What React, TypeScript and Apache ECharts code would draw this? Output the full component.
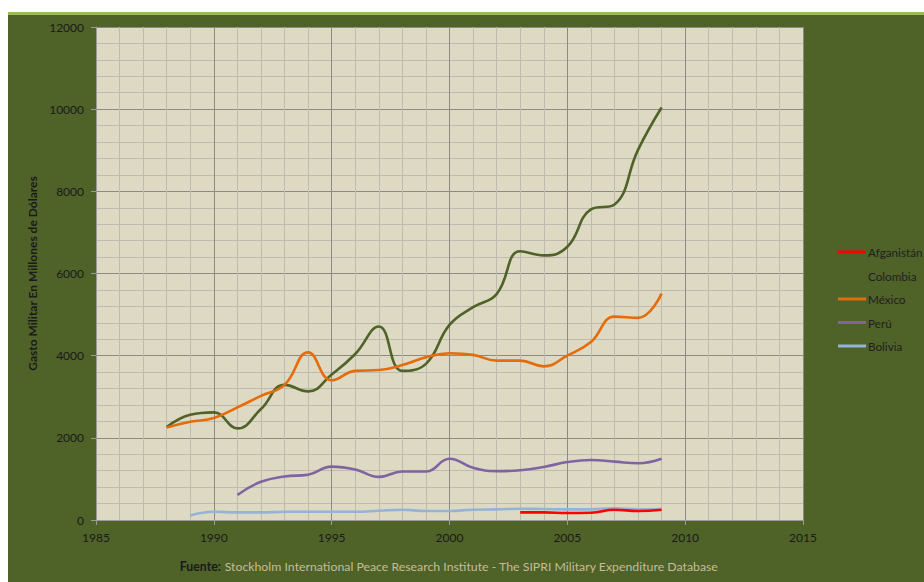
import React, { useEffect, useRef } from "react";
import * as echarts from "echarts";

const years: number[] = [1988, 1989, 1990, 1991, 1992, 1993, 1994, 1995, 1996, 1997, 1998, 1999, 2000, 2001, 2002, 2003, 2004, 2005, 2006, 2007, 2008, 2009];

const colombia: number[] = [2260, 2560, 2620, 2230, 2700, 3290, 3130, 3540, 4040, 4710, 3630, 3800, 4750, 5180, 5500, 6540, 6440, 6650, 7560, 7680, 9010, 10040];
const mexico: number[] = [2250, 2390, 2480, 2740, 3020, 3290, 4080, 3400, 3630, 3650, 3770, 3960, 4060, 4020, 3880, 3880, 3740, 4000, 4330, 4950, 4920, 5510];
const peruStart = 1991;
const peru: number[] = [610, 930, 1060, 1100, 1300, 1230, 1050, 1180, 1180, 1490, 1270, 1190, 1210, 1290, 1410, 1460, 1420, 1380, 1490];
const boliviaStart = 1989;
const bolivia: number[] = [110, 200, 185, 185, 200, 200, 200, 200, 225, 250, 218, 218, 250, 258, 274, 266, 258, 258, 282, 258, 266];
const afganistanStart = 2003;
const afganistan: number[] = [185, 185, 170, 177, 250, 218, 250];

const seriesNames = ["Afganistán", "Colombia", "México", "Perú", "Bolivia"];
const seriesColors = ["#FF0000", "#4F6228", "#E46C0A", "#8064A2", "#95B3D7"];

const yAxisTitle = "Gasto Militar En Millones de Dólares";
const sourceLabel = "Fuente:";
const sourceText = "Stockholm International Peace Research Institute - The SIPRI Military Expenditure Database";

function pairs(start: number, vals: number[]): [number, number][] {
  return vals.map((v, i) => [start + i, v]);
}

export default function App() {
  const ref = useRef<HTMLDivElement>(null);
  useEffect(() => {
    if (!ref.current) return;
    const chart = echarts.init(ref.current, undefined, { renderer: "svg" });
    const font = "Lato";
    const datasets: [number, number][][] = [
      pairs(afganistanStart, afganistan),
      pairs(years[0], colombia),
      pairs(years[0], mexico),
      pairs(peruStart, peru),
      pairs(boliviaStart, bolivia),
    ];
    const plain = (v: number) => String(v);
    chart.setOption({
      animation: false,
      backgroundColor: "#FFFFFF",
      textStyle: { fontFamily: font },
      graphic: [
        { type: "rect", z: -10, shape: { x: 8, y: 12, width: 916, height: 3 }, style: { fill: "#9BBB59" } },
        { type: "rect", z: -10, shape: { x: 8, y: 15, width: 916, height: 567 }, style: { fill: "#4F6228" } },
        {
          type: "text",
          x: 449,
          y: 566,
          style: {
            text: "{b|" + sourceLabel + "} {n|" + sourceText + "}",
            align: "center",
            verticalAlign: "middle",
            rich: {
              b: { fontFamily: font, fontSize: 12.3, fontWeight: "bold", fill: "#1A1A1A", color: "#1A1A1A" },
              n: { fontFamily: font, fontSize: 12.3, fill: "#C4BD97", color: "#C4BD97" },
            },
          },
        },
      ],
      grid: {
        left: 96,
        right: 121,
        top: 27,
        bottom: 62,
        show: true,
        backgroundColor: "#DDD9C3",
        borderWidth: 0,
      },
      legend: {
        orient: "vertical",
        left: 833,
        top: 241,
        itemWidth: 28,
        itemHeight: 3,
        itemGap: 11.5,
        icon: "rect",
        textStyle: { fontFamily: font, fontSize: 11.7, color: "#1F1F1F", padding: [0, 0, 0, -3] },
        data: seriesNames,
      },
      xAxis: {
        type: "value",
        min: 1985,
        max: 2015,
        interval: 5,
        axisLine: { show: true, onZero: false, lineStyle: { color: "#9A9A9A", width: 1 } },
        axisTick: { show: true, length: 5, lineStyle: { color: "#9A9A9A" } },
        axisLabel: { color: "#1A1A1A", fontSize: 12, margin: 11, fontFamily: font, formatter: plain },
        splitLine: { show: true, lineStyle: { color: "#8C8A84", width: 1 } },
        minorTick: { show: false, splitNumber: 5 },
        minorSplitLine: { show: true, lineStyle: { color: "#BDBAAE", width: 1 } },
      },
      yAxis: {
        type: "value",
        min: 0,
        max: 12000,
        interval: 2000,
        name: yAxisTitle,
        nameLocation: "middle",
        nameGap: 55,
        nameTextStyle: { fontFamily: font, fontSize: 12, fontWeight: "bold", color: "#1A1A1A" },
        axisLine: { show: true, lineStyle: { color: "#9A9A9A", width: 1 } },
        axisTick: { show: true, length: 5, lineStyle: { color: "#9A9A9A" } },
        axisLabel: { color: "#1A1A1A", fontSize: 12, margin: 12, fontFamily: font, formatter: plain },
        splitLine: { show: true, lineStyle: { color: "#8C8A84", width: 1 } },
        minorTick: { show: false, splitNumber: 5 },
        minorSplitLine: { show: true, lineStyle: { color: "#BDBAAE", width: 1 } },
      },
      series: seriesNames.map((name, i) => ({
        name,
        type: "line",
        data: datasets[i],
        smooth: 0.45,
        showSymbol: false,
        symbol: "none",
        color: seriesColors[i],
        lineStyle: { color: seriesColors[i], width: 2.6 },
        z: i === 0 ? 5 : 3,
      })),
    });
    return () => chart.dispose();
  }, []);
  return <div ref={ref} style={{ position: "fixed", left: 0, top: 0, width: 924, height: 582 }} />;
}
